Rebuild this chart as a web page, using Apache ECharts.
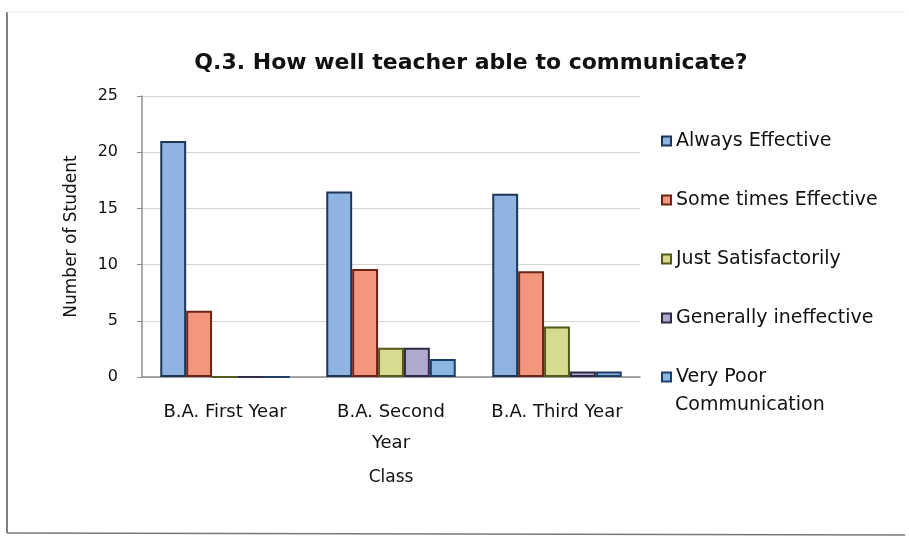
<!DOCTYPE html>
<html>
<head>
<meta charset="utf-8">
<script src="https://cdn.jsdelivr.net/npm/echarts@6/dist/echarts.min.js"></script>
<style>
  html, body { margin: 0; padding: 0; background: #ffffff; }
  #chart { width: 909px; height: 541px; }
</style>
</head>
<body>
<div id="chart"></div>
<script>
// Survey answers per class year
const classes = ['B.A. First Year', 'B.A. Second Year', 'B.A. Third Year'];
const seriesNames = [
  'Always Effective',
  'Some times Effective',
  'Just Satisfactorily',
  'Generally ineffective',
  'Very Poor Communication'
];
const alwaysEffective = [21, 16.5, 16.3];
const someTimesEffective = [5.9, 9.6, 9.4];
const justSatisfactorily = [0, 2.6, 4.5];
const generallyIneffective = [0, 2.6, 0.5];
const veryPoor = [0, 1.6, 0.5];
const yTicks = [0, 5, 10, 15, 20, 25];

const fills = ['#8fb4e2', '#f4957d', '#d7db8f', '#b2a9cf', '#8ab8e2'];
const edges = ['#1e3556', '#6b2416', '#55581f', '#2f2a45', '#1c3d66'];
const values = [alwaysEffective, someTimesEffective, justSatisfactorily, generallyIneffective, veryPoor];

const FONT = '"DejaVu Sans", sans-serif';
const INK = '#111111';

const chart = echarts.init(document.getElementById('chart'));

const series = seriesNames.map((name, i) => ({
  name: name,
  type: 'bar',
  data: values[i],
  barGap: '0%',
  barCategoryGap: '22%',
  itemStyle: { color: fills[i], borderColor: edges[i], borderWidth: 2 }
}));

// The last legend entry wraps onto a second line under its first word pair
const lastName = seriesNames[seriesNames.length - 1];
const lastFirstLine = 'Very Poor';
const lastSecondLine = lastName.slice(lastFirstLine.length + 1);

chart.setOption({
  animation: false,
  backgroundColor: '#ffffff',
  title: {
    text: 'Q.3. How well teacher able to communicate?',
    left: 466,
    top: 47,
    textAlign: 'center',
    textStyle: { fontFamily: FONT, fontSize: 22, fontWeight: 'bold', color: INK }
  },
  legend: {
    orient: 'vertical',
    left: 656,
    top: 126,
    itemWidth: 9,
    itemHeight: 9,
    itemGap: 39,
    icon: 'rect',
    textStyle: { fontFamily: FONT, fontSize: 19, color: INK, lineHeight: 20 },
    data: seriesNames,
    formatter: n => n === lastName ? lastFirstLine : n
  },
  grid: { left: 142, right: 269, top: 96, bottom: 164 },
  xAxis: {
    type: 'category',
    data: classes,
    name: 'Class',
    nameLocation: 'middle',
    nameGap: 92,
    nameTextStyle: { fontFamily: FONT, fontSize: 17, color: INK },
    axisLine: { lineStyle: { color: '#8c8c8c', width: 1.5 } },
    axisTick: { show: false },
    axisLabel: {
      interval: 0,
      hideOverlap: false,
      fontFamily: FONT, fontSize: 18, color: INK, margin: 20, lineHeight: 31,
      formatter: v => v.replace('Second ', 'Second\n')
    }
  },
  yAxis: {
    type: 'value',
    min: yTicks[0],
    max: yTicks[yTicks.length - 1],
    interval: yTicks[1] - yTicks[0],
    name: 'Number of Student',
    nameLocation: 'middle',
    nameGap: 62,
    nameTextStyle: { fontFamily: FONT, fontSize: 17, color: INK },
    axisLine: { show: true, lineStyle: { color: '#8c8c8c', width: 1.5 } },
    axisTick: { show: true, length: 5, lineStyle: { color: '#8c8c8c' } },
    axisLabel: { fontFamily: FONT, fontSize: 16, color: INK, margin: 24 },
    splitLine: { lineStyle: { color: '#d4d4d4', width: 1 } }
  },
  series: series,
  graphic: [
    { type: 'line', shape: { x1: 7, y1: 12, x2: 7, y2: 533 }, style: { stroke: '#555555', lineWidth: 1.5 } },
    { type: 'line', shape: { x1: 7, y1: 533, x2: 905, y2: 535 }, style: { stroke: '#777777', lineWidth: 1.5 } },
    { type: 'line', shape: { x1: 7, y1: 12, x2: 905, y2: 12 }, style: { stroke: '#e6e6e6', lineWidth: 1 } },
    {
      type: 'text', left: 675, top: 396,
      style: { text: lastSecondLine, fontFamily: FONT, fontSize: 19, fill: INK }
    }
  ]
});
</script>
</body>
</html>
